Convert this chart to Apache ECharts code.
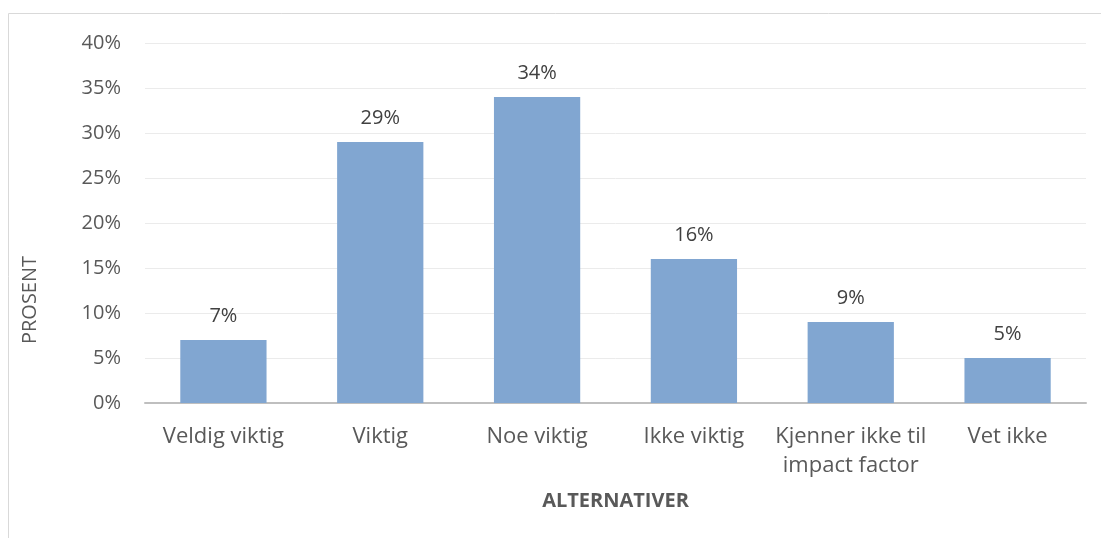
<!DOCTYPE html>
<html>
<head>
<meta charset="utf-8">
<script src="https://cdn.jsdelivr.net/npm/echarts@6/dist/echarts.min.js"></script>
<style>
  html, body { margin: 0; padding: 0; background: #fff; }
  #chart { width: 1101px; height: 538px; }
</style>
</head>
<body>
<div id="chart"></div>
<script>
const categories = ["Veldig viktig", "Viktig", "Noe viktig", "Ikke viktig", "Kjenner ikke til\nimpact factor", "Vet ikke"];
const values = [7, 29, 34, 16, 9, 5];
const yTicks = { min: 0, max: 40, step: 5 };

const chart = echarts.init(document.getElementById("chart"));
const font = "'Open Sans', 'Noto Sans', sans-serif";

chart.setOption({
  animation: false,
  textStyle: { fontFamily: font },
  graphic: [
    {
      // chart frame, runs off the right and bottom edge like in the source
      type: "rect",
      shape: { x: 8.5, y: 13.5, width: 1200, height: 600 },
      style: { fill: "none", stroke: "#d9d9d9", lineWidth: 1 },
    },
    {
      type: "text",
      x: 30,
      y: 300,
      rotation: Math.PI / 2,
      style: {
        text: "PROSENT",
        fill: "#595959",
        font: "20px " + font,
        align: "center",
        verticalAlign: "middle",
      },
    },
  ],
  grid: { left: 145, right: 15, top: 43, bottom: 135 },
  xAxis: {
    type: "category",
    data: categories,
    name: "ALTERNATIVER",
    nameLocation: "middle",
    nameGap: 88,
    nameTextStyle: { color: "#595959", fontSize: 20, fontWeight: "bold" },
    axisLine: { lineStyle: { color: "#bfbfbf", width: 2 } },
    axisTick: { show: false },
    axisLabel: { color: "#595959", fontSize: 22, margin: 19, lineHeight: 29, interval: 0 },
  },
  yAxis: {
    type: "value",
    min: yTicks.min,
    max: yTicks.max,
    interval: yTicks.step,
    axisLine: { show: false },
    axisTick: { show: false },
    axisLabel: { color: "#595959", fontSize: 20, margin: 24, formatter: "{value}%" },
    splitLine: { lineStyle: { color: "#ebebeb", width: 1 } },
  },
  series: [
    {
      type: "bar",
      data: values,
      barWidth: "55%",
      itemStyle: { color: "#81a6d1" },
      label: {
        show: true,
        position: "top",
        distance: 14,
        color: "#404040",
        fontSize: 20,
        formatter: "{c}%",
      },
    },
  ],
});
</script>
</body>
</html>
